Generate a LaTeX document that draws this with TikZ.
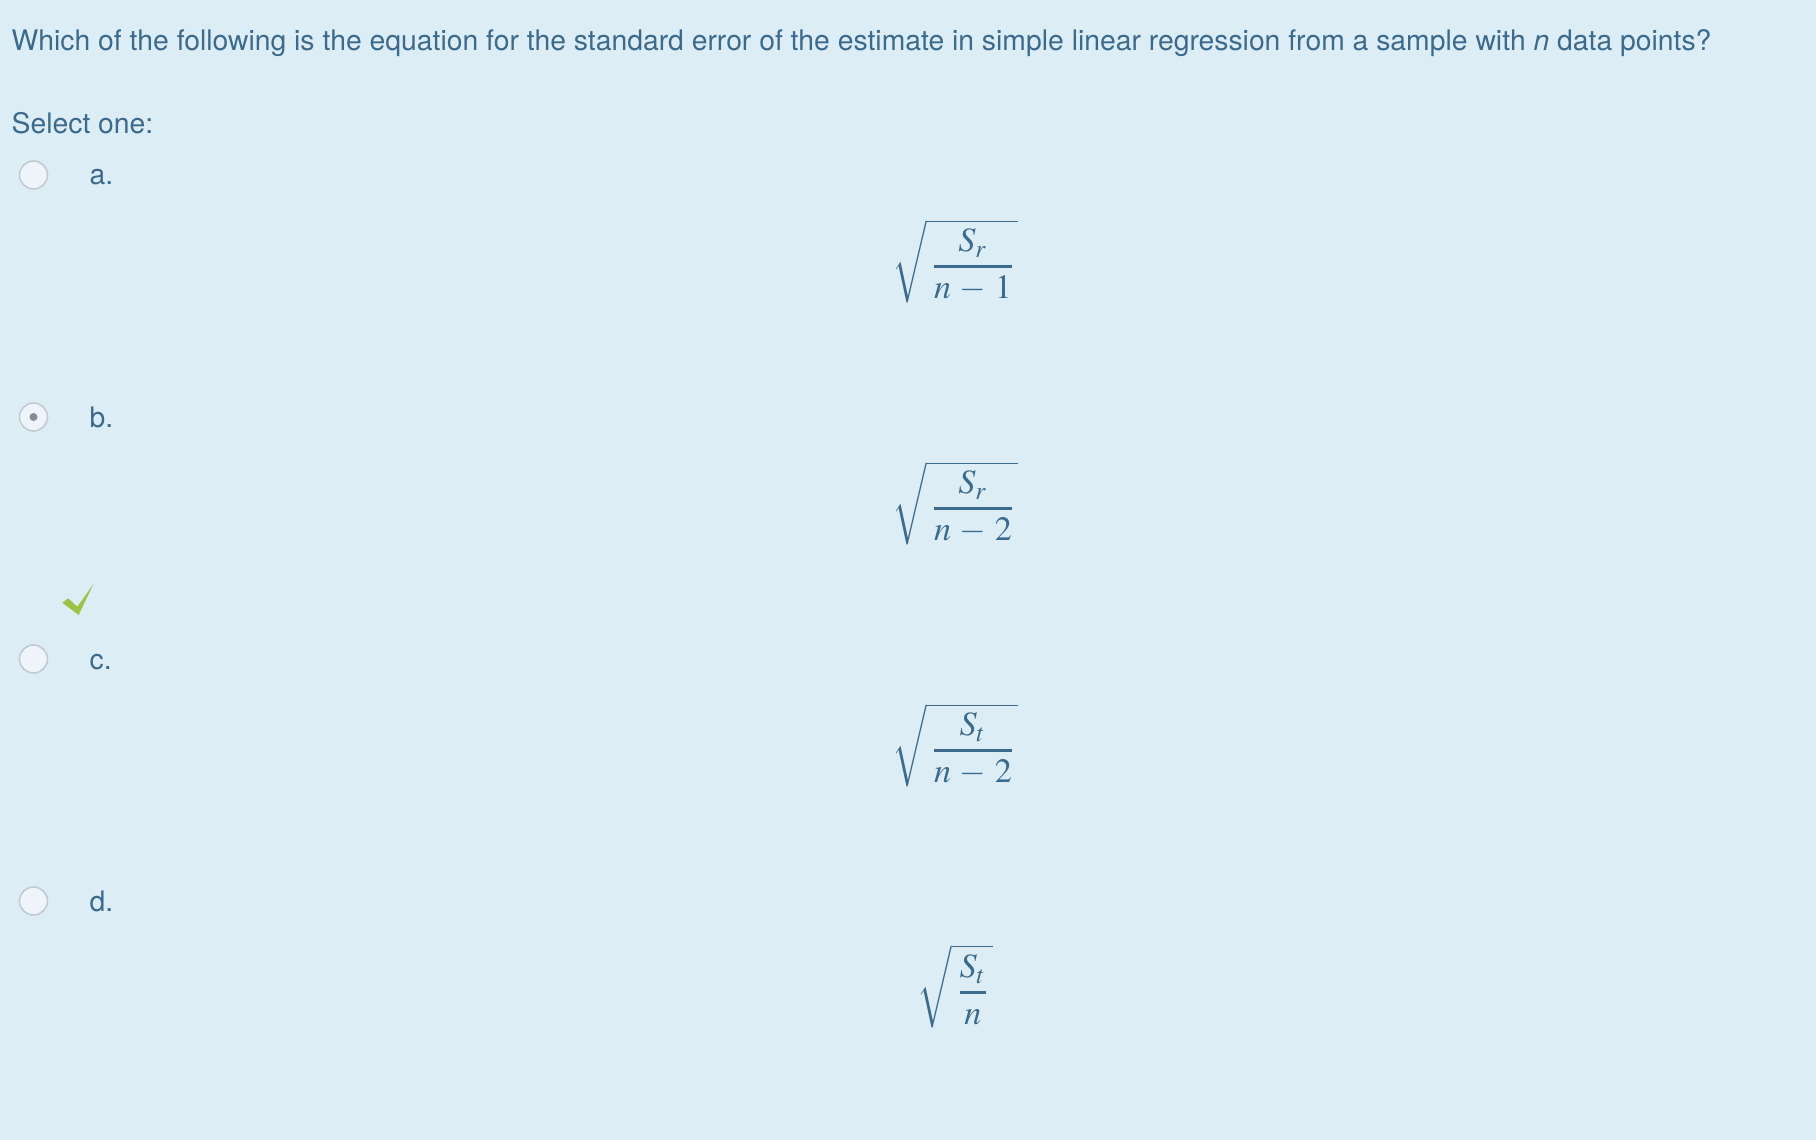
\documentclass[tikz,border=0pt]{standalone}
\usepackage{mathptmx}
\usepackage[no-math]{fontspec}
\setmainfont{TeX Gyre Heros}
\usepackage{xcolor}
\definecolor{quizbg}{HTML}{DCEDF6}
\definecolor{quiztext}{HTML}{3B6A8C}
\definecolor{radioline}{HTML}{C3CAD1}
\definecolor{radiofill}{HTML}{EEF4FA}
\definecolor{radiodot}{HTML}{868C94}
\definecolor{tickgreen}{HTML}{9CC443}

\tikzset{
  txt/.style={anchor=base west, inner sep=0pt, text=quiztext, font=\fontsize{8.05}{9.5}\selectfont},
  radio/.style={circle, draw=radioline, fill=radiofill, line width=0.45pt, minimum size=0.28cm, inner sep=0pt},
  eqn/.style={anchor=base, inner sep=0pt, text=quiztext, font=\fontsize{9.7}{11.5}\selectfont},
}

\begin{document}
\begin{tikzpicture}[x=0.01cm, y=-0.01cm]
  \fill[quizbg] (0,0) rectangle (1816,1140);
  \useasboundingbox (0,0) rectangle (1816,1140);
  \node[txt] (question) at (11,51) {Which of the following is the equation for the standard error of the estimate in simple linear regression from a sample with \textit{n} data points?};
  \node[txt] (select) at (11,134) {Select one:};
  \foreach \lbl/\num/\den [count=\i from 0] in {a/S_r/n-1, b/S_r/n-2, c/S_t/n-2, d/S_t/n}{
    \node[radio] (radio\lbl) at (33.5, 175+242*\i) {};
    \node[txt] (label\lbl) at (89, 185+242*\i) {\lbl.};
    \node[eqn] (eq\lbl) at (955, 275+242*\i) {$\medmuskip=4.5mu\displaystyle\sqrt{\mkern2mu{\num\above0.6pt\den}\mkern1mu}$};
  }
  \fill[radiodot] (radiob) circle (4);
  \fill[tickgreen] (62.3,602.7) -- (68.3,598.3) -- (77.3,606.7) -- (93.3,584.3) -- (78.7,615) -- cycle;
\end{tikzpicture}
\end{document}
